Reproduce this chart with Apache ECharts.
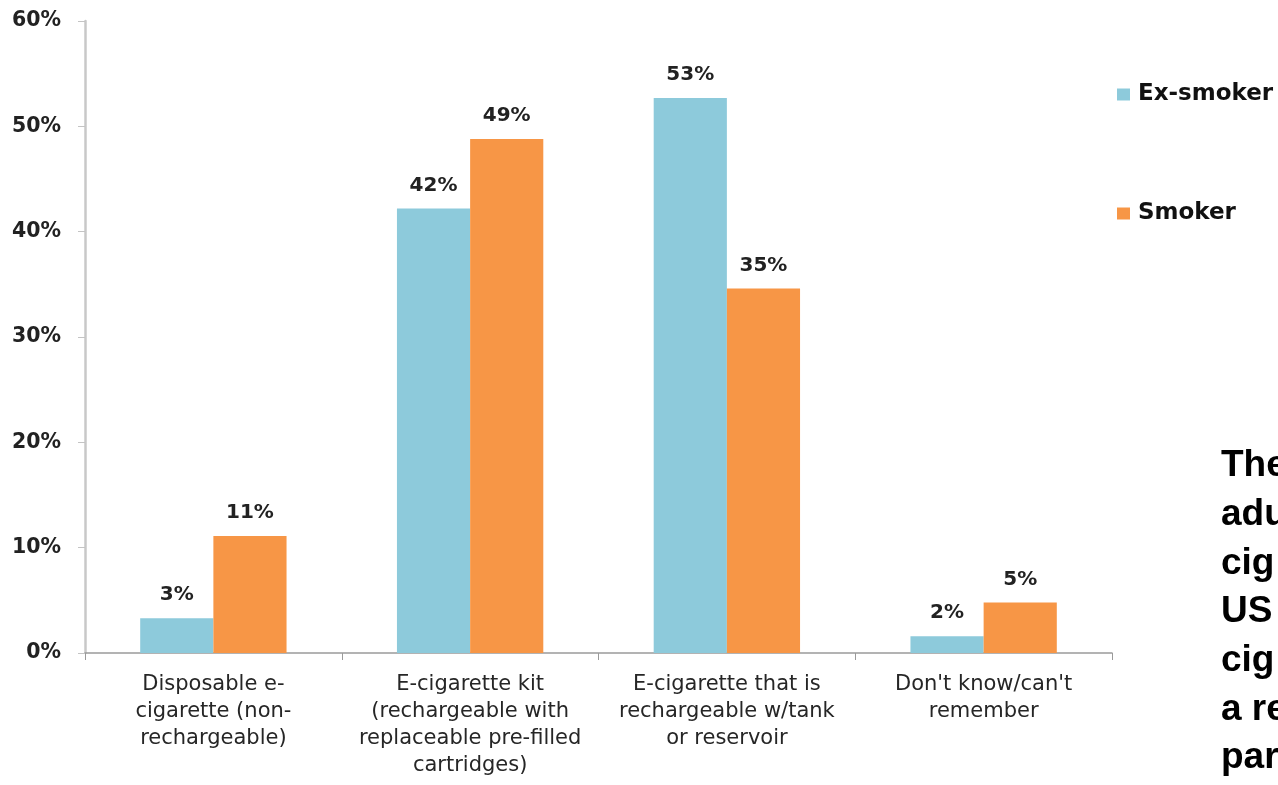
<!DOCTYPE html>
<html>
<head>
<meta charset="utf-8">
<script src="https://cdn.jsdelivr.net/npm/echarts@6/dist/echarts.min.js"></script>
<style>
html,body{margin:0;padding:0;background:#fff;}
#chart{width:1278px;height:785px;}
</style>
</head>
<body>
<div id="chart"></div>
<script>
const categories = [
  'Disposable e-\ncigarette (non-\nrechargeable)',
  'E-cigarette kit\n(rechargeable with\nreplaceable pre-filled\ncartridges)',
  'E-cigarette that is\nrechargeable w/tank\nor reservoir',
  "Don't know/can't\nremember"
];
const exSmoker = [3.3, 42.2, 52.7, 1.6];
const smoker = [11.1, 48.8, 34.6, 4.8];
const yTicks = { min: 0, max: 60, interval: 10 };
const sideText = ['The', 'adu', 'cig', 'US', 'cig', 'a re', 'par'];

const FONT = 'DejaVu Sans';
const chart = echarts.init(document.getElementById('chart'), null, { renderer: 'canvas' });

const labelOpt = {
  show: true,
  position: 'top',
  distance: 13,
  fontFamily: FONT,
  fontWeight: 'bold',
  fontSize: 20,
  color: '#222',
  formatter: p => Math.round(p.value) + '%'
};

chart.setOption({
  animation: false,
  backgroundColor: '#fff',
  grid: { left: 85, right: 166, top: 21, bottom: 132, containLabel: false },
  legend: {
    orient: 'vertical',
    left: 1117,
    top: 83,
    padding: 0,
    itemGap: 96,
    icon: 'rect',
    itemWidth: 13,
    itemHeight: 12,
    textStyle: { fontFamily: FONT, fontWeight: 'bold', fontSize: 23, color: '#111', padding: [0, 0, 0, 3] },
    data: ['Ex-smoker', 'Smoker']
  },
  xAxis: {
    type: 'category',
    data: categories,
    axisLine: { lineStyle: { color: '#9a9a9a', width: 1.5 } },
    axisTick: { show: true, length: 7, lineStyle: { color: '#9a9a9a' } },
    axisLabel: {
      fontFamily: FONT,
      fontSize: 21,
      color: '#262626',
      lineHeight: 27,
      margin: 18,
      interval: 0
    }
  },
  yAxis: {
    type: 'value',
    min: yTicks.min,
    max: yTicks.max,
    interval: yTicks.interval,
    splitLine: { show: false },
    axisLine: { show: true, lineStyle: { color: '#c8c8c8', width: 2.5 } },
    axisTick: { show: true, length: 7, lineStyle: { color: '#c4c4c4' } },
    axisLabel: {
      fontFamily: FONT,
      fontWeight: 'bold',
      fontSize: 20.5,
      color: '#222',
      margin: 24,
      formatter: '{value}%'
    }
  },
  series: [
    {
      name: 'Ex-smoker',
      type: 'bar',
      data: exSmoker,
      barGap: '0%',
      barCategoryGap: '43%',
      itemStyle: { color: '#8DCADB' },
      label: labelOpt
    },
    {
      name: 'Smoker',
      type: 'bar',
      data: smoker,
      barGap: '0%',
      barCategoryGap: '43%',
      itemStyle: { color: '#F79646' },
      label: labelOpt
    }
  ],
  graphic: sideText.map((t, i) => ({
    type: 'text',
    x: 1221,
    y: 466 + i * 48.7,
    style: { text: t, fontFamily: 'Liberation Sans', fontWeight: 'bold', fontSize: 37, fill: '#000', verticalAlign: 'middle', align: 'left' }
  }))
});
</script>
</body>
</html>
